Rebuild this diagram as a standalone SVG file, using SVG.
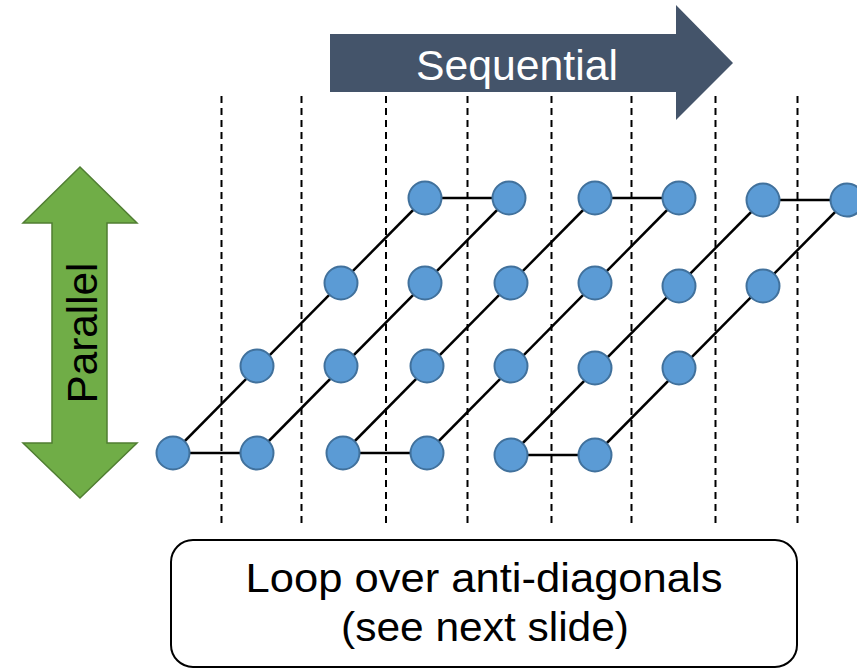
<svg xmlns="http://www.w3.org/2000/svg" width="857" height="669" viewBox="0 0 857 669">
  <style>
    .label { font-family: "Liberation Sans", Arial, sans-serif; }
    .grid { stroke: #000; stroke-width: 2; stroke-dasharray: 7 5; fill: none; }
    .edge { stroke: #000; stroke-width: 2.5; fill: none; }
    .cell { fill: #5B9BD5; stroke: #41719C; stroke-width: 2; }
  </style>

  <!-- Sequential direction arrow -->
  <g id="arrow-sequential">
    <polygon points="330,34 676,34 676,5 733,63 676,120 676,92 330,92" fill="#44546A"/>
    <text class="label" x="517" y="80" font-size="42" fill="#fff" text-anchor="middle" textLength="202" lengthAdjust="spacingAndGlyphs">Sequential</text>
  </g>

  <!-- Parallel direction arrow -->
  <g id="arrow-parallel">
    <polygon points="80,167 137,223 107,223 107,443 137,443 80,498 23,443 52,443 52,223 23,223" fill="#70AD47" stroke="#507E32" stroke-width="1.5"/>
    <text class="label" transform="translate(97,333) rotate(-90)" font-size="43" fill="#000" text-anchor="middle" textLength="141" lengthAdjust="spacingAndGlyphs">Parallel</text>
  </g>

  <!-- Anti-diagonal separators -->
  <g id="separators">
    <line class="grid" x1="221.5" y1="96" x2="221.5" y2="525"/>
    <line class="grid" x1="301.5" y1="96" x2="301.5" y2="525"/>
    <line class="grid" x1="386" y1="96" x2="386" y2="525"/>
    <line class="grid" x1="467.5" y1="96" x2="467.5" y2="525"/>
    <line class="grid" x1="551.5" y1="96" x2="551.5" y2="525"/>
    <line class="grid" x1="631.5" y1="96" x2="631.5" y2="525"/>
    <line class="grid" x1="715.5" y1="96" x2="715.5" y2="525"/>
    <line class="grid" x1="797.5" y1="96" x2="797.5" y2="525"/>
  </g>

  <!-- Connectors -->
  <g id="connectors">
    <!-- block 1 -->
    <line class="edge" x1="173" y1="453" x2="257" y2="453"/>
    <line class="edge" x1="173" y1="453" x2="425" y2="198"/>
    <line class="edge" x1="257" y1="453" x2="509" y2="198"/>
    <line class="edge" x1="425" y1="198" x2="509" y2="198"/>
    <!-- block 2 -->
    <line class="edge" x1="343" y1="453" x2="427" y2="453"/>
    <line class="edge" x1="343" y1="453" x2="595" y2="198"/>
    <line class="edge" x1="427" y1="453" x2="679" y2="198"/>
    <line class="edge" x1="595" y1="198" x2="679" y2="198"/>
    <!-- block 3 -->
    <line class="edge" x1="511" y1="455" x2="595" y2="455"/>
    <line class="edge" x1="511" y1="455" x2="763" y2="200"/>
    <line class="edge" x1="595" y1="455" x2="847" y2="200"/>
    <line class="edge" x1="763" y1="200" x2="847" y2="200"/>
  </g>

  <!-- Iteration points -->
  <g id="n-b1-a1"><circle class="cell" cx="173" cy="453" r="16.5"/></g>
  <g id="n-b1-a2"><circle class="cell" cx="257" cy="366" r="16.5"/></g>
  <g id="n-b1-a3"><circle class="cell" cx="341" cy="283" r="16.5"/></g>
  <g id="n-b1-a4"><circle class="cell" cx="425" cy="198" r="16.5"/></g>
  <g id="n-b1-b1"><circle class="cell" cx="257" cy="453" r="16.5"/></g>
  <g id="n-b1-b2"><circle class="cell" cx="341" cy="366" r="16.5"/></g>
  <g id="n-b1-b3"><circle class="cell" cx="425" cy="283" r="16.5"/></g>
  <g id="n-b1-b4"><circle class="cell" cx="509" cy="198" r="16.5"/></g>

  <g id="n-b2-a1"><circle class="cell" cx="343" cy="453" r="16.5"/></g>
  <g id="n-b2-a2"><circle class="cell" cx="427" cy="366" r="16.5"/></g>
  <g id="n-b2-a3"><circle class="cell" cx="511" cy="283" r="16.5"/></g>
  <g id="n-b2-a4"><circle class="cell" cx="595" cy="198" r="16.5"/></g>
  <g id="n-b2-b1"><circle class="cell" cx="427" cy="453" r="16.5"/></g>
  <g id="n-b2-b2"><circle class="cell" cx="511" cy="366" r="16.5"/></g>
  <g id="n-b2-b3"><circle class="cell" cx="595" cy="283" r="16.5"/></g>
  <g id="n-b2-b4"><circle class="cell" cx="679" cy="198" r="16.5"/></g>

  <g id="n-b3-a1"><circle class="cell" cx="511" cy="455" r="16.5"/></g>
  <g id="n-b3-a2"><circle class="cell" cx="595" cy="368" r="16.5"/></g>
  <g id="n-b3-a3"><circle class="cell" cx="679" cy="286" r="16.5"/></g>
  <g id="n-b3-a4"><circle class="cell" cx="763" cy="200" r="16.5"/></g>
  <g id="n-b3-b1"><circle class="cell" cx="595" cy="455" r="16.5"/></g>
  <g id="n-b3-b2"><circle class="cell" cx="679" cy="368" r="16.5"/></g>
  <g id="n-b3-b3"><circle class="cell" cx="763" cy="286" r="16.5"/></g>
  <g id="n-b3-b4"><circle class="cell" cx="847" cy="200" r="16.5"/></g>

  <!-- Caption box -->
  <g id="caption">
    <rect x="171" y="540" width="626" height="127" rx="22" ry="22" fill="#fff" stroke="#000" stroke-width="2"/>
    <text class="label" x="484" y="592" font-size="41" fill="#000" text-anchor="middle" textLength="477" lengthAdjust="spacingAndGlyphs">Loop over anti-diagonals</text>
    <text class="label" x="485" y="641" font-size="41" fill="#000" text-anchor="middle" textLength="288" lengthAdjust="spacingAndGlyphs">(see next slide)</text>
  </g>
</svg>
